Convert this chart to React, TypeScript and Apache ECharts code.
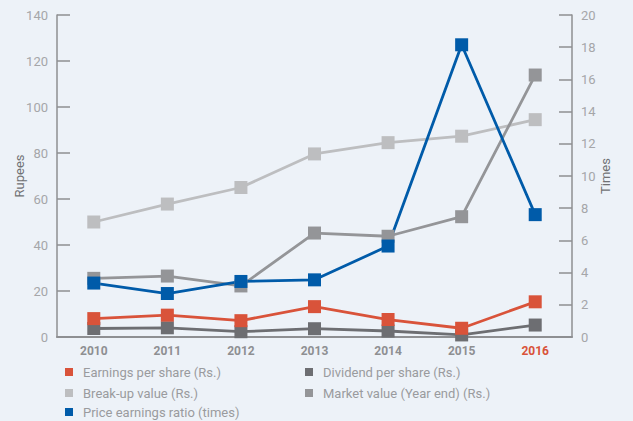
import React, { useEffect, useRef } from "react";
import * as echarts from "echarts";

const years = ["2010", "2011", "2012", "2013", "2014", "2015", "2016"];
const earningsPerShare = [8.0, 9.5, 7.1, 13.2, 7.6, 3.8, 15.3];
const dividendPerShare = [3.7, 4.0, 2.3, 3.6, 2.6, 0.9, 5.2];
const breakUpValue = [50.0, 57.8, 65.0, 79.6, 84.5, 87.3, 94.5];
const marketValue = [25.5, 26.5, 22.2, 45.2, 43.8, 52.3, 113.9];
const priceEarningsRatio = [3.35, 2.7, 3.45, 3.55, 5.65, 18.15, 7.6];
const rupeeTicks = { min: 0, max: 140, interval: 20 };
const timesTicks = { min: 0, max: 20, interval: 2 };

const C_EPS = "#d9533a";
const C_DIV = "#6d6e72";
const C_BREAK = "#bdbec0";
const C_MARKET = "#949598";
const C_PE = "#005ba9";

const NAME_EPS = "Earnings per share (Rs.)";
const NAME_DIV = "Dividend per share (Rs.)";
const NAME_BREAK = "Break-up value (Rs.)";
const NAME_MARKET = "Market value (Year end) (Rs.)";
const NAME_PE = "Price earnings ratio (times)";

const FONT = "Roboto, 'Liberation Sans', sans-serif";

export default function App() {
  const ref = useRef<HTMLDivElement>(null);

  useEffect(() => {
    if (!ref.current) return;
    const chart = echarts.init(ref.current, null, { renderer: "svg" });

    const line = (name: string, data: number[], color: string, yAxisIndex = 0) => ({
      name,
      type: "line",
      data,
      yAxisIndex,
      symbol: "rect",
      symbolSize: 13,
      lineStyle: { color, width: 2.8 },
      itemStyle: { color },
      emphasis: { disabled: true },
    });

    // one legend entry per block so the two columns line up
    const legendItem = (name: string, left: number, top: number) => ({
      left,
      top,
      padding: 0,
      icon: "rect",
      itemWidth: 8,
      itemHeight: 8,
      selectedMode: false,
      data: [name],
      textStyle: {
        color: "#9a9b9e",
        fontSize: 13,
        lineHeight: 14,
        fontFamily: FONT,
        padding: [0, 0, 0, 5],
      },
    });

    const valueAxis = (name: string, ticks: object, right: boolean, gap: number) => ({
      type: "value",
      position: right ? "right" : "left",
      ...ticks,
      name,
      nameLocation: "middle",
      nameRotate: 90,
      nameGap: gap,
      nameMoveOverlap: false,
      nameTextStyle: { color: "#707174", fontSize: 13, fontFamily: FONT },
      axisLine: { show: true, lineStyle: { color: "#8e8f92", width: 1.5 } },
      axisTick: { show: true, inside: true, length: 13, lineStyle: { color: "#8e8f92", width: 1.5 } },
      axisLabel: { color: "#a5a6a9", fontSize: 13, fontFamily: FONT, margin: 9 },
      splitLine: { show: false },
    });

    chart.setOption({
      animation: false,
      backgroundColor: "#edf2f8",
      grid: { left: 57, right: 61, top: 15, bottom: 84, containLabel: false },
      legend: [
        legendItem(NAME_EPS, 65, 365),
        legendItem(NAME_BREAK, 65, 386),
        legendItem(NAME_PE, 65, 405),
        legendItem(NAME_DIV, 305, 365),
        legendItem(NAME_MARKET, 305, 386),
      ],
      xAxis: {
        type: "category",
        data: years,
        boundaryGap: true,
        axisLine: { lineStyle: { color: "#8e8f92", width: 2 } },
        axisTick: { inside: true, length: 5, lineStyle: { color: "#8e8f92", width: 1 } },
        axisLabel: {
          margin: 8,
          fontFamily: FONT,
          fontWeight: "bold",
          fontSize: 12,
          color: (v: string) => (v === "2016" ? C_EPS : "#8e8f92"),
        },
      },
      yAxis: [
        valueAxis("Rupees", rupeeTicks, false, 31),
        valueAxis("Times", timesTicks, true, 27),
      ],
      series: [
        line(NAME_DIV, dividendPerShare, C_DIV),
        line(NAME_EPS, earningsPerShare, C_EPS),
        line(NAME_BREAK, breakUpValue, C_BREAK),
        line(NAME_MARKET, marketValue, C_MARKET),
        line(NAME_PE, priceEarningsRatio, C_PE, 1),
      ],
    });

    return () => chart.dispose();
  }, []);

  return (
    <div
      ref={ref}
      style={{ width: 633, height: 421, position: "absolute", left: 0, top: 0 }}
    />
  );
}
